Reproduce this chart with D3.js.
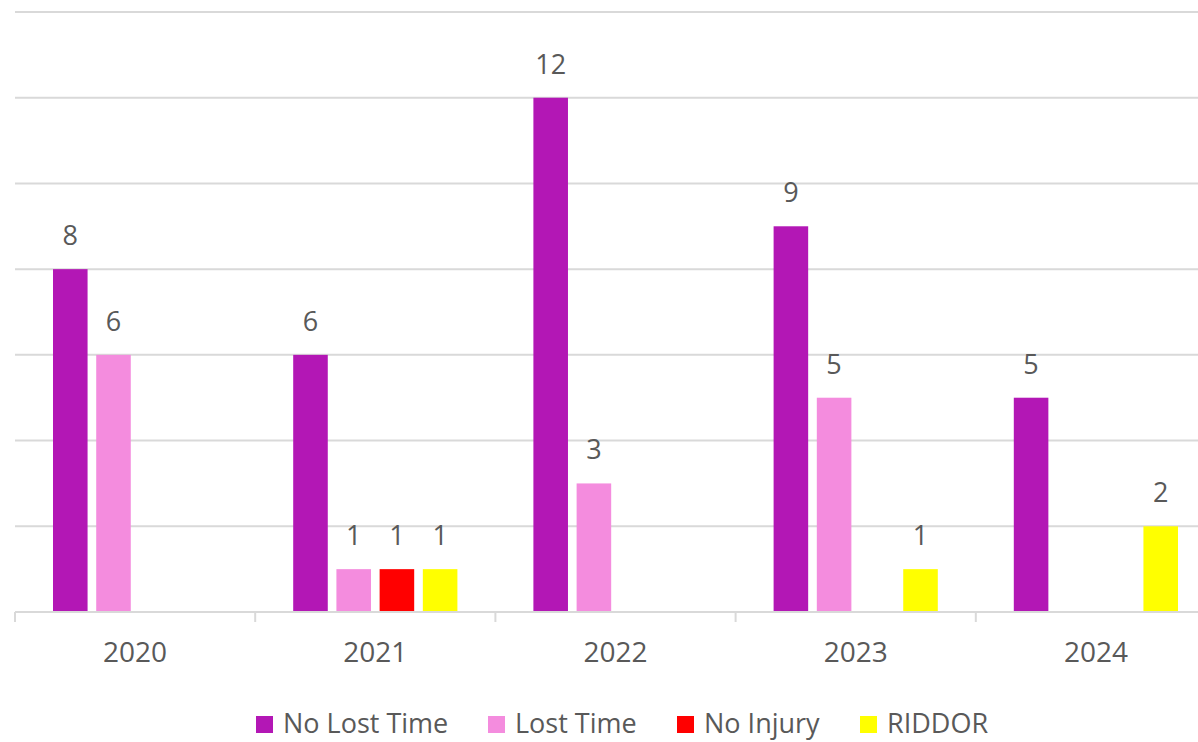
<!DOCTYPE html>
<html>
<head>
<meta charset="utf-8">
<script src="https://cdn.jsdelivr.net/npm/d3@7"></script>
<style>
  body { margin: 0; background: #fff; }
  text { font-family: "Open Sans", sans-serif; fill: #595959; }
</style>
</head>
<body>
<div id="chart"></div>
<script>
// chart data
const years = ["2020", "2021", "2022", "2023", "2024"];
const seriesNames = ["No Lost Time", "Lost Time", "No Injury", "RIDDOR"];
const noLostTime = [8, 6, 12, 9, 5];
const lostTime = [6, 1, 3, 5, 0];
const noInjury = [0, 1, 0, 0, 0];
const riddor = [0, 1, 0, 1, 2];
const yTicks = [0, 2, 4, 6, 8, 10, 12, 14];
const colors = ["#b317b5", "#f48cde", "#ff0000", "#ffff00"];

const seriesValues = [noLostTime, lostTime, noInjury, riddor];

const width = 1198, height = 742;
const svg = d3.select("#chart").append("svg")
    .attr("width", width)
    .attr("height", height);

// plot runs past the right edge, like the reference crop
const x = d3.scaleBand()
    .domain(years)
    .range([15, 1216]);

const xInner = d3.scaleBand()
    .domain(seriesNames)
    .range([38, x.bandwidth() - 38])
    .paddingInner(0.2);

const y = d3.scaleLinear()
    .domain([0, 14])
    .range([612, 12]);

// gridlines
svg.append("g")
    .selectAll("line")
    .data(yTicks.slice(1))
    .join("line")
    .attr("x1", 15)
    .attr("x2", width)
    .attr("y1", d => y(d))
    .attr("y2", d => y(d))
    .attr("stroke", "#d9d9d9")
    .attr("stroke-width", 2);

// bars
const groups = svg.append("g")
    .selectAll("g")
    .data(years)
    .join("g")
    .attr("transform", d => `translate(${x(d)},0)`);

groups.each(function (year, i) {
    const g = d3.select(this);
    const vals = seriesNames.map((name, s) => ({ name, s, v: seriesValues[s][i] }))
        .filter(d => d.v > 0);
    g.selectAll("rect")
        .data(vals)
        .join("rect")
        .attr("x", d => xInner(d.name))
        .attr("width", xInner.bandwidth())
        .attr("y", d => y(d.v))
        .attr("height", d => y(0) - y(d.v))
        .attr("fill", d => colors[d.s]);
    g.selectAll("text.val")
        .data(vals)
        .join("text")
        .attr("class", "val")
        .attr("x", d => xInner(d.name) + xInner.bandwidth() / 2)
        .attr("y", d => y(d.v) - 24)
        .attr("text-anchor", "middle")
        .style("font-size", "27px")
        .text(d => d.v);
});

// x axis
const axis = svg.append("g")
    .attr("transform", `translate(0,${y(0)})`)
    .call(d3.axisBottom(x).tickSize(0).tickPadding(30));
axis.select(".domain").remove();
axis.selectAll("text")
    .style("font-size", "28px")
    .attr("fill", "#595959");

svg.append("line")
    .attr("x1", 15).attr("x2", width)
    .attr("y1", y(0)).attr("y2", y(0))
    .attr("stroke", "#d9d9d9")
    .attr("stroke-width", 2);

svg.append("g")
    .selectAll("line")
    .data(years)
    .join("line")
    .attr("x1", d => x(d)).attr("x2", d => x(d))
    .attr("y1", y(0)).attr("y2", y(0) + 10)
    .attr("stroke", "#d9d9d9")
    .attr("stroke-width", 2);

// legend
const legendX = [256, 488, 677, 860];
const legend = svg.append("g")
    .selectAll("g")
    .data(seriesNames)
    .join("g")
    .attr("transform", (d, i) => `translate(${legendX[i]},716)`);

legend.append("rect")
    .attr("width", 17)
    .attr("height", 17)
    .attr("fill", (d, i) => colors[i]);

legend.append("text")
    .attr("x", 27)
    .attr("y", 17)
    .style("font-size", "27px")
    .text(d => d);
</script>
</body>
</html>
